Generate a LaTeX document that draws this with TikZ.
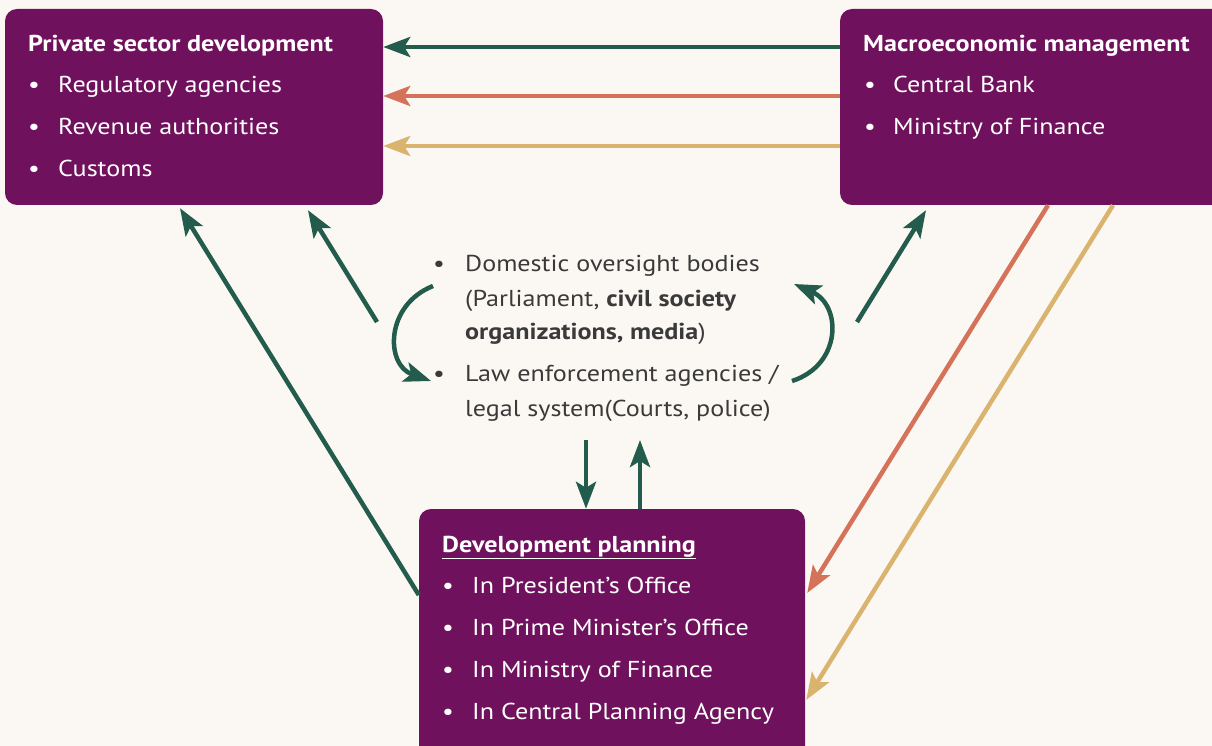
\documentclass[tikz,border=0pt]{standalone}
\usepackage{fontspec}
\setmainfont[FakeStretch=1.135]{PT Sans}
\usetikzlibrary{arrows.meta}
\definecolor{boxpurple}{HTML}{6F115C}
\definecolor{arrgreen}{HTML}{235B4C}
\definecolor{arrred}{HTML}{D5725A}
\definecolor{arryellow}{HTML}{DAB46E}
\definecolor{paper}{HTML}{FBF8F3}
\definecolor{midtext}{HTML}{3A3A3A}

\begin{document}
\begin{tikzpicture}[x=1pt,y=-1pt,>={Stealth[length=27pt,width=20pt,inset=6pt]}]
	\tikzstyle{box} = [rectangle,rounded corners=12pt,fill=boxpurple,inner sep=0pt];
	\tikzstyle{txt} = [anchor=base west,inner sep=0pt,text=white,font=\fontsize{23}{28}\selectfont];
	\tikzstyle{mid} = [anchor=base west,inner sep=0pt,text=midtext,font=\fontsize{23}{28}\selectfont];
	\tikzstyle{link} = [->,line width=4.5pt];
	\fill[paper] (0,0) rectangle (1212,746);
	\useasboundingbox (0,0) rectangle (1212,746);
	% boxes
	\node[box,minimum width=378pt,minimum height=196pt] (psd) at (194,107) {};
	\node[box,minimum width=390pt,minimum height=196pt] (mac) at (1035,107) {};
	\node[box,minimum width=386pt,minimum height=261pt] (dev) at (612,639.5) {};
	% private sector
	\node[txt] (psdt) at (28,52) {\textbf{Private sector development}};
	\node[txt] (psdb1) at (28,93) {•}; \node[txt] (psd1) at (58,93) {Regulatory agencies};
	\node[txt] (psdb2) at (28,135) {•}; \node[txt] (psd2) at (58,135) {Revenue authorities};
	\node[txt] (psdb3) at (28,177) {•}; \node[txt] (psd3) at (58,177) {Customs};
	% macroeconomic
	\node[txt] (mact) at (863,52) {\textbf{Macroeconomic management}};
	\node[txt] (macb1) at (864,93) {•}; \node[txt] (mac1) at (893,93) {Central Bank};
	\node[txt] (macb2) at (864,135) {•}; \node[txt] (mac2) at (893,135) {Ministry of Finance};
	% development planning
	\node[txt] (devt) at (442,552) {\textbf{\underline{Development planning}}};
	\node[txt] (devb1) at (442,593) {•}; \node[txt] (dev1) at (472,593) {In President’s Office};
	\node[txt] (devb2) at (442,635) {•}; \node[txt] (dev2) at (472,635) {In Prime Minister’s Office};
	\node[txt] (devb3) at (442,677) {•}; \node[txt] (dev3) at (472,677) {In Ministry of Finance};
	\node[txt] (devb4) at (442,719) {•}; \node[txt] (dev4) at (472,719) {In Central Planning Agency};
	% oversight text
	\node[mid] (midb1) at (433,271) {•}; \node[mid] (mid1) at (465,271) {Domestic oversight bodies};
	\node[mid] (mid2) at (465,306) {(Parliament, \textbf{civil society}};
	\node[mid] (mid3) at (465,339) {\textbf{organizations, media})};
	\node[mid] (midb2) at (433,381) {•}; \node[mid] (mid4) at (465,381) {Law enforcement agencies /};
	\node[mid] (mid5) at (465,416) {legal system(Courts, police)};
	% free ends near the middle text
	\coordinate (ml) at (377,322);
	\coordinate (mr) at (857,322);
	\coordinate (md) at (586,440);
	\coordinate (mu) at (640,440);
	\coordinate (cl1) at (433,286);
	\coordinate (cl2) at (431,381);
	\coordinate (cr1) at (792,381);
	\coordinate (cr2) at (794,284);
	% connectors
	\draw[link,arrgreen] ([yshift=60pt]mac.west) -- ([yshift=60pt]psd.east);
	\draw[link,arrred] ([yshift=11pt]mac.west) -- ([yshift=11pt]psd.east);
	\draw[link,arryellow] ([yshift=-39pt]mac.west) -- ([yshift=-39pt]psd.east);
	\draw[link,arrgreen] ([yshift=44.5pt]dev.west) -- ([xshift=-14pt,yshift=-3pt]psd.south);
	\draw[link,arrgreen] (ml) -- ([xshift=114pt,yshift=-5pt]psd.south);
	\draw[link,arrgreen] (mr) -- ([xshift=-109pt,yshift=-5pt]mac.south);
	\draw[link,arrred] ([xshift=13pt]mac.south) -- ([xshift=2pt,yshift=46.5pt]dev.east);
	\draw[link,arryellow] ([xshift=78pt]mac.south) -- ([xshift=1pt,yshift=-60.5pt]dev.east);
	\draw[link,arrgreen] (md) -- ([xshift=-26pt]dev.north);
	\draw[link,arrgreen] ([xshift=28pt]dev.north) -- (mu);
	\draw[link,arrgreen] (cl1) .. controls (385,305) and (385,365) .. (cl2);
	\draw[link,arrgreen] (cr1) .. controls (842,365) and (842,305) .. (cr2);
\end{tikzpicture}
\end{document}
